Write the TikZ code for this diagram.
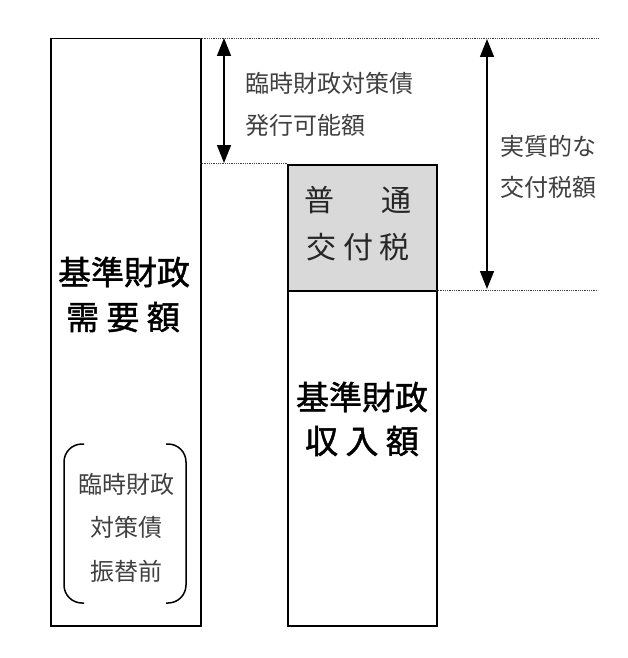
\documentclass[tikz,border=0pt]{standalone}
\usepackage{fontspec}
\newfontfamily\jp{Noto Sans CJK JP}
\newfontfamily\jpb[FakeBold=1.4]{Noto Sans CJK JP}
\usetikzlibrary{arrows.meta}
\definecolor{boxgray}{HTML}{D9D9D9}
\definecolor{txtgray}{HTML}{404040}
\tikzset{
  box/.style={draw=black, line width=1.5pt},
  guide/.style={densely dotted, line width=0.8pt, draw=black!75},
  dim/.style={line width=1.5pt, {Triangle[width=14pt,length=18pt]}-{Triangle[width=14pt,length=18pt]}},
  bigtxt/.style={font=\jpb\fontsize{33}{33}\selectfont, inner sep=0pt},
  midtxt/.style={font=\jp\fontsize{30}{30}\selectfont, inner sep=0pt, text=black!85},
  smalltxt/.style={font=\jp\fontsize{24}{24}\selectfont, inner sep=0pt, text=txtgray},
  paren/.style={line width=1.5pt, rounded corners=18pt}
}
\begin{document}
\begin{tikzpicture}[x=1pt,y=-1pt]
\useasboundingbox (0,0) rectangle (628,658);
% boxes
\node[box, minimum width=150pt, minimum height=587pt, inner sep=0pt, anchor=north west] (left) at (50,38) {};
\fill[boxgray] (287,164) rectangle (436,290);
\node[box, minimum width=149pt, minimum height=126pt, inner sep=0pt, anchor=north west] (gray) at (287,164) {};
\node[box, minimum width=149pt, minimum height=335pt, inner sep=0pt, anchor=north west] (low) at (287,290) {};
% guide coordinates
\coordinate (t0) at (200,38);
\coordinate (t1) at (598,38);
\coordinate (m0) at (200,163);
\coordinate (m1) at (287,163);
\coordinate (b0) at (436,290);
\coordinate (b1) at (598,290);
\draw[guide] (t0) -- (t1);
\draw[guide] (m0) -- (m1);
\draw[guide] (b0) -- (b1);
% dimension arrows
\coordinate (a1t) at (224,38);
\coordinate (a1b) at (224,163);
\coordinate (a2t) at (487,39);
\coordinate (a2b) at (487,289);
\draw[dim] (a1t) -- (a1b);
\draw[dim] (a2t) -- (a2b);
% labels
\node[smalltxt, anchor=west] (l1) at (245,83) {臨時財政対策債};
\node[smalltxt, anchor=west] (l2) at (245,125) {発行可能額};
\node[smalltxt, anchor=west] (r1) at (500,146) {実質的な};
\node[smalltxt, anchor=west] (r2) at (500,187) {交付税額};
% left box text
\node[bigtxt] (ln1) at (124,272) {基準財政};
\node[bigtxt] (ln2) at (123,317) {需 要 額};
% right box texts
\node[bigtxt] (rn1) at (362,397) {基準財政};
\node[bigtxt] (rn2) at (362,441) {収 入 額};
\node[midtxt] (g1a) at (319,200) {普};
\node[midtxt] (g1b) at (396,200) {通};
\node[midtxt] (g2) at (358,247) {交 付 税};
% bracketed text
\node[smalltxt] (p1) at (126,484) {臨時財政};
\node[smalltxt] (p2) at (126,527) {対策債};
\node[smalltxt] (p3) at (126,571) {振替前};
\draw[paren] (84,444) -- (64,444) -- (64,603) -- (84,603);
\draw[paren] (166,444) -- (186,444) -- (186,603) -- (166,603);
\end{tikzpicture}
\end{document}
